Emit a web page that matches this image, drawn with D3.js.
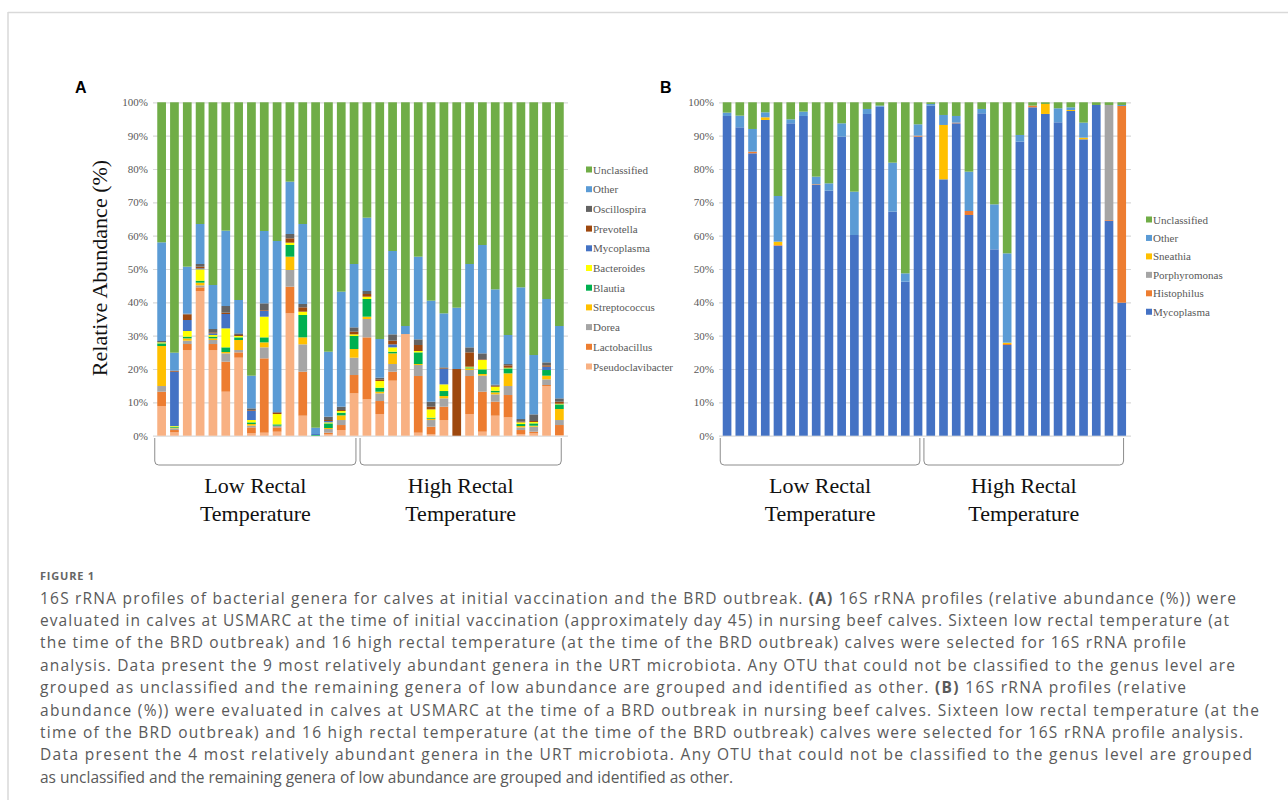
<!DOCTYPE html>
<html>
<head>
<meta charset="utf-8">
<script src="https://cdn.jsdelivr.net/npm/d3@7"></script>
<style>
  body { margin: 0; background: #fff; }
</style>
</head>
<body>
<div id="chart"></div>
<script>
var width = 1288;
var height = 800;

// ---- panel A : 16 low + 16 high rectal temperature calves (relative abundance, %)
var pseudoA  = [8.9,1.0,25.7,43.4,25.7,13.2,23.4,0.7,0.9,1.2,36.7,6.0,0,0.4,1.7,12.7, 10.9,6.5,16.5,30.5,0.9,0.4,4.7,0,6.5,1.2,6.0,5.5,0.5,0.7,14.9,0.2];
var lactoA   = [4.3,0.7,1.8,1.1,1.8,9.0,1.6,1.8,22.3,1.3,8.0,13.2,0,0.5,1.5,5.5, 18.6,3.9,2.7,0,17.0,2.3,4.0,0,11.4,12.0,4.2,6.7,1.2,0.5,0.3,3.0];
var doreaA   = [1.7,0.5,1.0,0.6,1.2,2.5,0.7,0.5,3.3,0.5,5.0,8.2,0,1.1,1.5,5.2, 5.5,2.3,2.3,0,3.3,2.0,2.5,0,1.8,4.8,2.2,2.7,0.8,1.5,1.7,1.5];
var strepA   = [12.0,0.2,0.7,0.8,0.5,0.4,3.0,0.5,1.5,0,4.0,2.1,0,0.3,1.4,2.6, 0.7,0.5,3.2,0,0.3,0.4,0.7,0,0.5,0.5,0.6,3.8,0.4,0.3,1.1,3.3];
var blautiaA = [0.8,0.3,0.5,0.6,0.5,1.4,0.8,0.5,1.5,0.4,3.5,6.7,0.2,1.4,0.8,3.9, 5.3,1.2,0.5,0,3.5,0.3,1.5,0,0.3,1.4,0.5,1.5,0.6,0.7,1.7,1.4];
var bactA    = [0.3,0.2,1.7,3.4,0.5,5.7,0.4,0.7,6.2,3.1,0.7,1.0,0,0.3,0.5,0.5, 0.7,2.0,1.3,0,0.4,2.5,2.0,0,0.2,2.8,1.2,0.2,0.5,0.4,0,0.2];
var mycoA    = [0,16.3,3.3,0.3,0.5,4.3,0,2.8,1.8,0,0,0,0.3,0.4,0,0, 0,0,0.9,0,0,0,4.6,0,0,0,0,0,0,0,1.0,0];
var prevA    = [0,0.3,1.7,0.5,0.3,0.4,0.3,0.2,0.2,0.4,1.3,1.3,0,0.3,0.3,0.8, 0.8,0.5,1.1,0,1.8,0.8,0.2,20.0,4.3,0.2,0.3,0.7,0.2,0.3,0.4,0.6];
var oscilA   = [0.4,0,0.2,0.8,1.0,2.0,0.5,0.5,2.0,0.2,1.3,1.0,0,1.0,1.0,1.3, 0.9,0.5,1.9,0,1.7,1.5,0.3,0,1.5,1.8,0.3,0.4,0.8,2.0,0.9,1.0];
var otherA   = [29.6,5.4,14.1,12.0,13.2,22.6,10.0,9.8,21.7,51.3,15.7,24.0,1.9,19.5,34.5,19.0, 22.0,11.6,25.0,2.4,24.8,30.3,16.2,18.4,25.0,32.5,28.6,8.7,39.5,17.8,19.0,21.7];
var unclA    = [42.0,75.1,49.3,36.5,54.8,38.5,59.3,82.0,38.6,41.6,23.8,36.5,97.6,74.8,56.8,48.5, 34.6,71.0,44.6,67.1,46.3,59.5,63.3,61.6,48.5,42.8,56.1,69.8,55.5,75.8,59.0,67.1];

// ---- panel B : same calves at the BRD outbreak
var mycoB    = [95.9,92.5,84.7,94.7,57.0,93.7,95.9,75.2,73.5,89.7,60.2,96.5,98.7,67.2,46.2,89.7, 99.0,76.9,93.7,66.2,96.7,55.9,27.2,88.2,98.5,96.5,94.0,97.4,88.9,99.2,64.5,39.9];
var histoB   = [0,0,0.5,0,0.2,0,0,0.2,0,0,0,0,0,0,0,0.3, 0,0,0.2,1.2,0,0,0.3,0,0.5,0,0,0,0,0,0.2,59.0];
var porphB   = [0,0,0,0,0,0,0,0,0,0,0,0,0,0,0,0, 0,0,0,0,0,0,0,0,0,0,0,0,0,0,34.5,0];
var sneathB  = [0,0,0,0.8,1.0,0,0,0,0,0,0,0,0,0,0,0, 0,16.3,0,0,0,0,0.4,0,0,3.0,0,0.3,0.5,0,0,0];
var otherB   = [1.0,3.5,6.8,1.5,13.7,1.2,1.3,2.3,2.2,4.0,13.0,1.5,0.3,14.7,2.5,3.4, 0.5,3.0,2.0,11.8,1.3,13.5,26.8,2.0,0,0,4.2,0.8,4.5,0,0,0.3];
var unclB    = [3.1,4.0,8.0,3.0,28.1,5.1,2.8,22.3,24.3,6.3,26.8,2.0,1.0,18.1,51.3,6.6, 0.5,3.8,4.1,20.8,2.0,30.6,45.3,9.8,1.0,0.5,1.8,1.5,6.1,0.8,0.8,0.8];

var seriesA = ["Pseudoclavibacter","Lactobacillus","Dorea","Streptococcus","Blautia","Bacteroides","Mycoplasma","Prevotella","Oscillospira","Other","Unclassified"];
var valuesA = [pseudoA, lactoA, doreaA, strepA, blautiaA, bactA, mycoA, prevA, oscilA, otherA, unclA];
var colorsA = ["#F8B183","#ED7D31","#A5A5A5","#FFC000","#00B050","#FFFF00","#4472C4","#9E480E","#636363","#5B9BD5","#70AD47"];

var seriesB = ["Mycoplasma","Histophilus","Porphyromonas","Sneathia","Other","Unclassified"];
var valuesB = [mycoB, histoB, porphB, sneathB, otherB, unclB];
var colorsB = ["#4472C4","#ED7D31","#A5A5A5","#FFC000","#5B9BD5","#70AD47"];

var yTicks = [0,0.1,0.2,0.3,0.4,0.5,0.6,0.7,0.8,0.9,1];
var groups = [["Low Rectal","Temperature"],["High Rectal","Temperature"]];

var captionTitle = "FIGURE 1";
var captionLines = [
  "16S rRNA profiles of bacterial genera for calves at initial vaccination and the BRD outbreak. (A) 16S rRNA profiles (relative abundance (%)) were",
  "evaluated in calves at USMARC at the time of initial vaccination (approximately day 45) in nursing beef calves. Sixteen low rectal temperature (at",
  "the time of the BRD outbreak) and 16 high rectal temperature (at the time of the BRD outbreak) calves were selected for 16S rRNA profile",
  "analysis. Data present the 9 most relatively abundant genera in the URT microbiota. Any OTU that could not be classified to the genus level are",
  "grouped as unclassified and the remaining genera of low abundance are grouped and identified as other. (B) 16S rRNA profiles (relative",
  "abundance (%)) were evaluated in calves at USMARC at the time of a BRD outbreak in nursing beef calves. Sixteen low rectal temperature (at the",
  "time of the BRD outbreak) and 16 high rectal temperature (at the time of the BRD outbreak) calves were selected for 16S rRNA profile analysis.",
  "Data present the 4 most relatively abundant genera in the URT microbiota. Any OTU that could not be classified to the genus level are grouped",
  "as unclassified and the remaining genera of low abundance are grouped and identified as other."
];
var captionEnds = [1236,1229,1186,1235,1186,1259,1243,1252,null];

var svg = d3.select("#chart").append("svg")
    .attr("width", width)
    .attr("height", height)
    .style("font-family", "'Liberation Serif', 'Times New Roman', serif");

// frame
svg.append("line").attr("x1", 8).attr("x2", width).attr("y1", 12.5).attr("y2", 12.5)
    .attr("stroke", "#d9d9d9").attr("stroke-width", 1.5);
svg.append("line").attr("x1", 8).attr("x2", 8).attr("y1", 12).attr("y2", height)
    .attr("stroke", "#d9d9d9").attr("stroke-width", 1.5);

var y = d3.scaleLinear().domain([0, 1]).range([435.7, 102.3]);

function drawPanel(p) {
    var rows = d3.range(32).map(function (i) {
        var r = { bar: i };
        p.series.forEach(function (s, j) { r[s] = p.values[j][i]; });
        return r;
    });

    var x = d3.scaleBand()
        .domain(d3.range(32))
        .range(p.xRange)
        .paddingInner(0.32)
        .paddingOuter(0.16);

    var color = d3.scaleOrdinal().domain(p.series).range(p.colors);

    var g = svg.append("g");

    // gridlines + tick labels
    g.append("g")
        .attr("transform", "translate(" + p.gridX[0] + ",0)")
        .call(d3.axisLeft(y).tickValues(yTicks).tickFormat(d3.format(".0%"))
            .tickSize(-(p.gridX[1] - p.gridX[0])).tickPadding(5))
        .call(function (a) {
            a.select(".domain").remove();
            a.selectAll(".tick line").attr("stroke", "#d9d9d9").attr("stroke-width", 1.2);
            a.selectAll(".tick text")
                .attr("fill", "#595959")
                .style("font-size", "11px")
                .style("font-family", "'Liberation Serif', serif");
        });

    var stacked = d3.stack().keys(p.series).offset(d3.stackOffsetExpand)(rows);

    g.selectAll("g.layer")
        .data(stacked)
        .enter().append("g")
        .attr("class", "layer")
        .attr("fill", function (d) { return color(d.key); })
        .selectAll("rect")
        .data(function (d) { return d; })
        .enter().append("rect")
        .attr("x", function (d) { return x(d.data.bar); })
        .attr("width", x.bandwidth())
        .attr("y", function (d) { return y(d[1]); })
        .attr("height", function (d) { return Math.max(0, y(d[0]) - y(d[1])); });

    // legend, top entry = top of the stack
    var leg = g.append("g");
    var items = p.series.slice().reverse();
    items.forEach(function (s, i) {
        var cy = p.legend.y + i * p.legend.step;
        leg.append("rect")
            .attr("x", p.legend.x).attr("y", cy - 3.5)
            .attr("width", 6).attr("height", 6)
            .attr("fill", color(s));
        leg.append("text")
            .attr("x", p.legend.x + 7).attr("y", cy + 3.5)
            .attr("fill", "#595959")
            .style("font-size", "11px")
            .text(s);
    });

    // group brackets and labels
    [[0, 15], [16, 31]].forEach(function (r, gi) {
        var x0 = x(r[0]) - 2.5;
        var x1 = x(r[1]) + x.bandwidth() - 2.5;
        var yt = 438, yb = 465, rr = 4;
        g.append("path")
            .attr("d", "M" + x0 + "," + yt + "L" + x0 + "," + (yb - rr) +
                "Q" + x0 + "," + yb + " " + (x0 + rr) + "," + yb +
                "L" + (x1 - rr) + "," + yb +
                "Q" + x1 + "," + yb + " " + x1 + "," + (yb - rr) +
                "L" + x1 + "," + yt)
            .attr("fill", "none")
            .attr("stroke", "#8c8c8c")
            .attr("stroke-width", 1);
        var cx = (x0 + x1) / 2;
        g.append("text").attr("x", cx).attr("y", 493)
            .attr("text-anchor", "middle").style("font-size", "22px").attr("fill", "#111")
            .text(groups[gi][0]);
        g.append("text").attr("x", cx).attr("y", 521)
            .attr("text-anchor", "middle").style("font-size", "22px").attr("fill", "#111")
            .text(groups[gi][1]);
    });

    // panel letter
    svg.append("text")
        .attr("x", p.letterX).attr("y", 93)
        .style("font-family", "'Liberation Sans', Arial, sans-serif")
        .style("font-weight", "bold")
        .style("font-size", "16px")
        .text(p.letter);
}

drawPanel({
    series: seriesA, values: valuesA, colors: colorsA,
    xRange: [155.2, 565.8], gridX: [153, 568],
    legend: { x: 586, y: 170, step: 19.7 },
    letter: "A", letterX: 75
});

drawPanel({
    series: seriesB, values: valuesB, colors: colorsB,
    xRange: [720.7, 1128.1], gridX: [719, 1131],
    legend: { x: 1146, y: 220, step: 18.45 },
    letter: "B", letterX: 660
});

// y axis title (panel A only)
svg.append("text")
    .attr("transform", "translate(107,268) rotate(-90)")
    .attr("text-anchor", "middle")
    .style("font-size", "22px")
    .attr("fill", "#111")
    .text("Relative Abundance (%)");

// caption
var cap = svg.append("g").style("font-family", "'Open Sans', 'Noto Sans', sans-serif");
cap.append("text")
    .attr("x", 40).attr("y", 580)
    .attr("fill", "#666")
    .style("font-size", "11px")
    .style("font-weight", "bold")
    .style("letter-spacing", "0.8px")
    .text(captionTitle);

captionLines.forEach(function (line, i) {
    var t = cap.append("text")
        .attr("x", 40)
        .attr("y", 603.5 + i * 22.4)
        .attr("fill", "#5a5a5a")
        .style("font-size", "15.5px");
    if (captionEnds[i]) {
        t.attr("textLength", captionEnds[i] - 40).attr("lengthAdjust", "spacing");
    }
    line.split(/(\(A\)|\(B\))/).forEach(function (part) {
        if (!part) return;
        t.append("tspan")
            .style("font-weight", part === "(A)" || part === "(B)" ? "bold" : "normal")
            .text(part);
    });
});
</script>
</body>
</html>
